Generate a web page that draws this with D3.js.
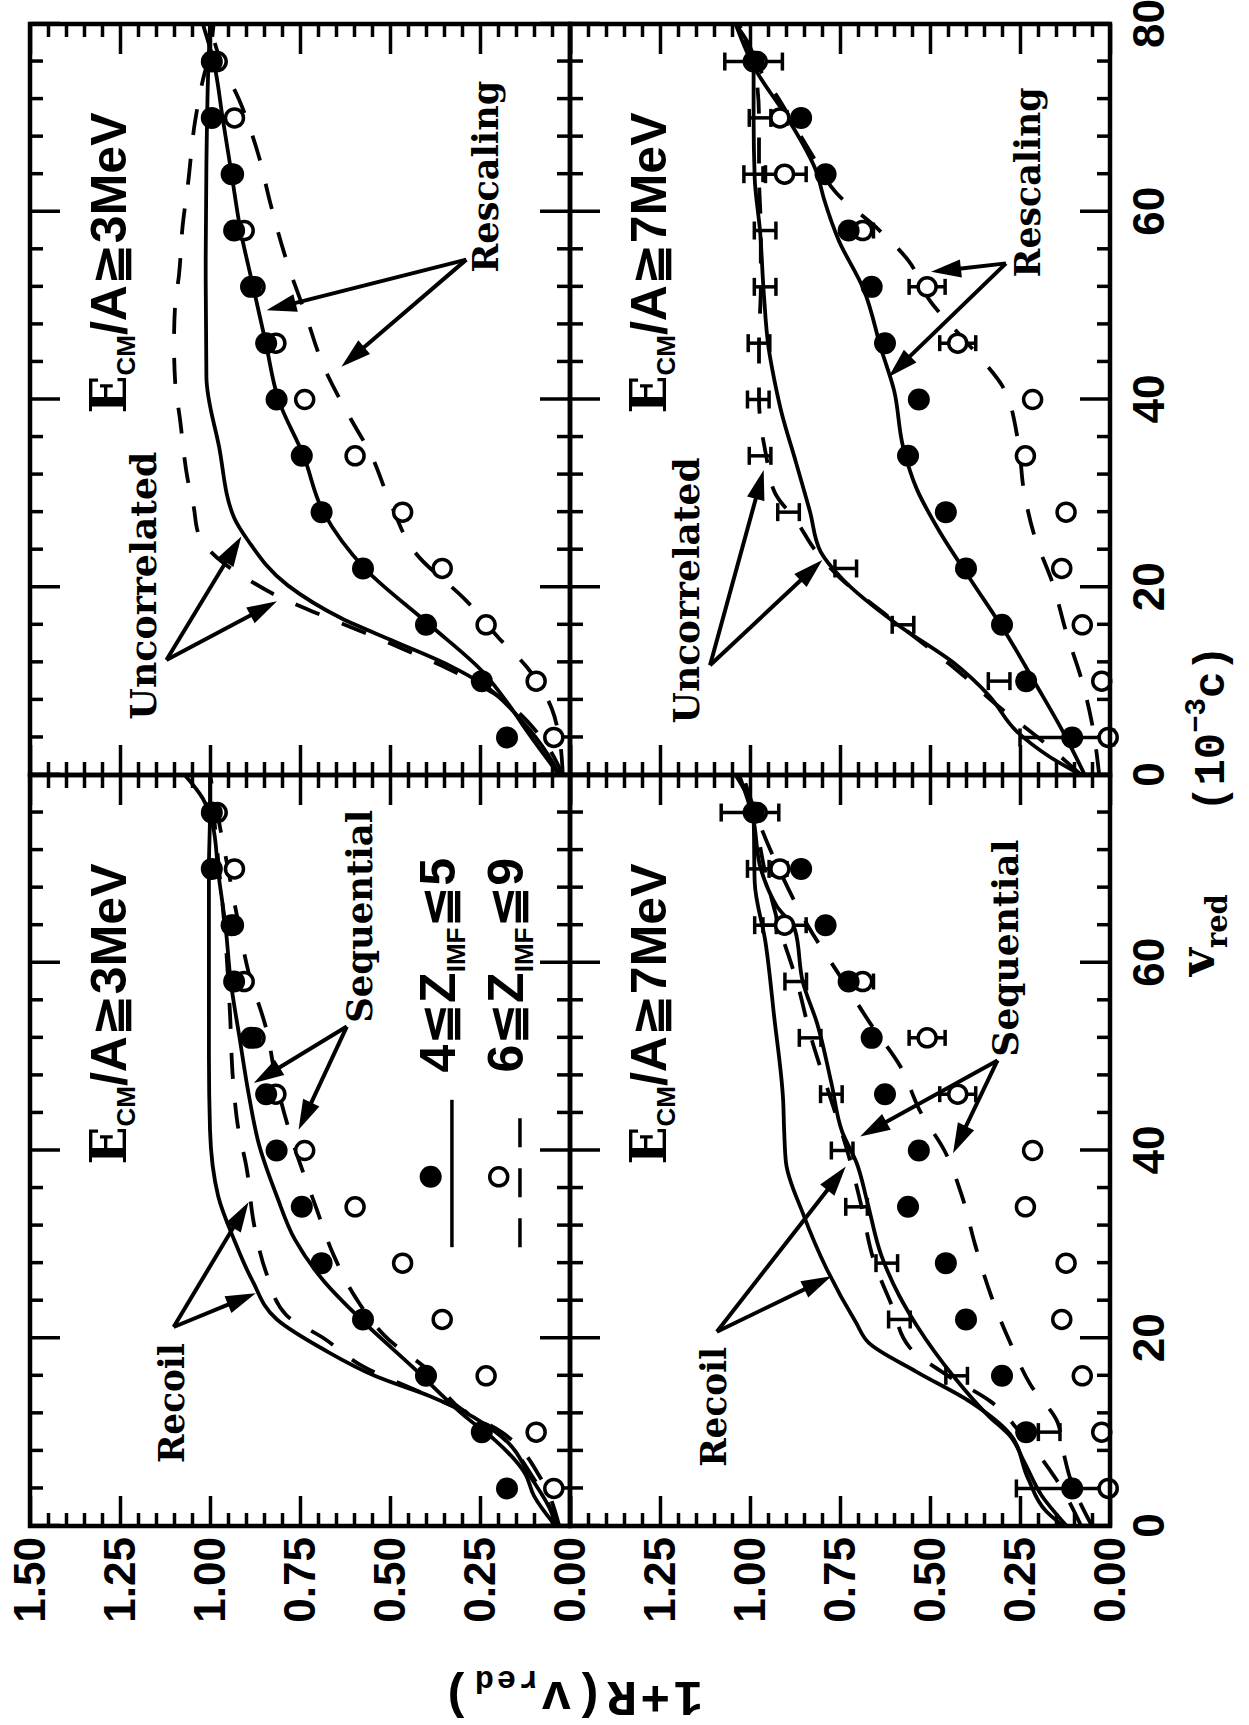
<!DOCTYPE html>
<html><head><meta charset="utf-8">
<script src="https://cdn.jsdelivr.net/npm/d3@7/dist/d3.min.js"></script>
<style>html,body{margin:0;padding:0;background:#fff}svg{display:block}</style>
</head><body>
<script>
// ---------------- data ----------------
const vPts = [4,10,16,22,28,34,40,46,52,58,64,70,76];
const rTicks = [0,0.25,0.5,0.75,1,1.25,1.5];
const vTicks = [0,20,40,60,80];

// E_CM/A >= 3 MeV data (4<=Z<=5 filled, 6<=Z<=9 open)
const filled3 = [0.175,0.245,0.40,0.575,0.69,0.745,0.815,0.844,0.886,0.933,0.94,0.995,0.995];
const open3   = [0.045,0.094,0.233,0.355,0.465,0.597,0.737,0.817,0.875,0.905,0.935,0.932,0.98];
// E_CM/A >= 7 MeV data
const filled7 = [0.105,0.233,0.30,0.40,0.456,0.561,0.531,0.625,0.662,0.726,0.79,0.858,0.99];
const open7   = [0.005,0.023,0.077,0.134,0.122,0.235,0.215,0.423,0.508,0.687,0.904,0.917,0.98];
const open7Err= [0,0,0,0,0,0,0,0.05,0.05,0.03,0.06,0.02,0];
// simulation error bars (7 MeV)
const calcUncor7 = [0.12,0.308,0.575,0.734,0.893,0.972,0.977,0.975,0.958,0.958,0.987,0.972,0.99];
const calcSeq7   = [0.13,0.169,0.426,0.585,0.62,0.704,0.744,0.774,0.833,0.873,0.957,0.977,1.0];
const calcErr7   = [0.13,0.03,0.03,0.03,0.03,0.03,0.03,0.03,0.03,0.03,0.03,0.03,0.08];

// model curves [v_red, 1+R]
const recoilSolid3 = [[0,0.04],[1.3,0.05],[5.2,0.109],[9.5,0.189],[11.6,0.268],[13.8,0.387],[15.9,0.536],[18.8,0.684],[22,0.814],[26.2,0.883],[30.5,0.933],[35.1,0.977],[42.2,1.0],[50,1.003],[60,1.003],[70,1.003],[76,1.0],[80,1.0]];
const recoilDash3  = [[0,0.03],[5,0.1],[9.5,0.19],[11.8,0.27],[14,0.40],[17,0.575],[20,0.684],[22.5,0.789],[27,0.844],[32,0.877],[38.5,0.90],[42,0.92],[47,0.935],[55,0.945],[64,0.96],[70,0.975],[76,0.99],[80,1.0]];
const seqSolid3    = [[0,0.04],[3.2,0.10],[5.6,0.125],[9.2,0.21],[11.6,0.289],[16.9,0.436],[22.2,0.586],[26.1,0.684],[30.5,0.764],[35.1,0.814],[40.5,0.863],[46.1,0.893],[51.8,0.917],[57.9,0.942],[63.9,0.957],[69.6,0.977],[74.6,0.992],[77.5,1.02],[80,1.07]];
const seqDash3     = [[0,0.03],[5,0.08],[10,0.19],[12.4,0.30],[16.7,0.397],[19.9,0.505],[24.3,0.595],[28.8,0.656],[34,0.706],[41.5,0.775],[47,0.814],[53,0.844],[59,0.893],[64,0.92],[70,0.95],[76,0.98],[80,1.0]];
const uncorSolid3  = [[0,0.03],[2.1,0.06],[6,0.139],[9.55,0.238],[11.7,0.337],[14.2,0.486],[16.7,0.635],[20.2,0.784],[24.9,0.893],[27.4,0.933],[35,0.975],[42.4,1.01],[55,1.012],[65,1.01],[75,1.005],[80,1.0]];
const uncorDash3   = [[0,0.02],[4,0.08],[8.6,0.208],[11.3,0.337],[13.3,0.456],[15.4,0.586],[17.4,0.714],[19.2,0.82],[20.5,0.88],[22.5,0.96],[25.8,1.033],[28.5,1.045],[31.5,1.062],[37.8,1.083],[42,1.097],[46,1.10],[50,1.097],[53.3,1.086],[58.5,1.076],[63,1.061],[69.5,1.042],[74,1.02],[77,1.0],[80,0.99]];
const rescSolid3   = [[0,0.03],[4.7,0.12],[7.5,0.17],[10.9,0.24],[16,0.39],[22,0.57],[28,0.685],[34,0.74],[40,0.81],[46,0.845],[52,0.88],[58,0.915],[64,0.94],[70,0.965],[76,0.99],[80,1.02]];
const rescDash3    = [[0,0.02],[4,0.03],[7,0.05],[11.5,0.12],[14.6,0.198],[18.6,0.289],[23.6,0.428],[28.8,0.497],[34.3,0.555],[38,0.61],[43.5,0.684],[49,0.734],[55,0.789],[61,0.833],[66,0.865],[72,0.92],[76,0.97],[80,1.0]];

const recoilSolid7 = [[0,0.13],[1.6,0.178],[5.1,0.228],[9.8,0.278],[13.2,0.387],[16.4,0.536],[19.5,0.67],[21.7,0.706],[27.3,0.786],[33.3,0.853],[38.7,0.90],[42,0.905],[45.4,0.908],[54.3,0.933],[62.2,0.957],[68.6,0.987],[75.5,0.99],[80,1.04]];
const recoilDash7  = [[0,0.08],[5,0.15],[10,0.25],[13.3,0.333],[16,0.45],[19,0.556],[23.4,0.605],[28.4,0.657],[34,0.69],[40,0.73],[46,0.78],[52,0.83],[58,0.87],[64,0.92],[70,0.96],[76,0.99],[80,1.02]];
const seqSolid7    = [[0,0.12],[3.2,0.189],[6.8,0.238],[9.6,0.278],[11.7,0.337],[16,0.436],[21.3,0.536],[24.5,0.585],[28.8,0.635],[34.5,0.674],[38.7,0.704],[42,0.744],[47.2,0.774],[53.6,0.814],[57.9,0.853],[63.5,0.875],[66,0.925],[70,0.97],[75.5,0.992],[80,1.03]];
const seqDash7     = [[0,0.05],[5,0.11],[8,0.13],[11,0.145],[15,0.22],[19.6,0.278],[24.5,0.33],[30,0.375],[35,0.41],[40,0.46],[44,0.525],[49,0.583],[53.6,0.667],[58,0.74],[64,0.84],[70,0.92],[76,0.985],[80,1.02]];
const uncorSolid7  = [[0,0.08],[2,0.17],[4.6,0.258],[8.5,0.337],[12,0.436],[15.9,0.586],[20.9,0.744],[23.8,0.804],[28,0.833],[33.4,0.873],[38.7,0.913],[42.2,0.933],[45.4,0.948],[51.5,0.962],[57.9,0.972],[63.6,0.987],[70,0.99],[76,0.99],[80,1.04]];
const uncorDash7   = [[0,0.08],[4,0.2],[7,0.30],[11,0.42],[17,0.62],[21,0.75],[24,0.82],[27,0.87],[30,0.93],[34,0.955],[40,0.975],[46,0.975],[52,0.97],[58,0.97],[64,0.975],[70,0.975],[76,0.99],[80,1.04]];
const rescSolid7   = [[0,0.07],[4.5,0.129],[9.8,0.208],[15.1,0.289],[20.8,0.387],[26.1,0.476],[30.4,0.536],[35,0.575],[41,0.60],[45.3,0.635],[51.7,0.684],[57,0.754],[61.3,0.794],[64.1,0.814],[69.8,0.893],[75.3,0.987],[80,1.04]];
const rescDash7    = [[0,0.03],[5.5,0.05],[10.3,0.08],[15,0.12],[20.5,0.16],[25.5,0.21],[30.5,0.24],[35.5,0.255],[41.5,0.30],[44,0.35],[47,0.42],[50.5,0.50],[54.8,0.56],[58,0.64],[62,0.76],[66.4,0.833],[72,0.92],[76,0.985],[80,1.03]];

// ---------------- layout ----------------
const W = 1249, H = 1725;
const svg = d3.select('body').append('svg').attr('width', W).attr('height', H);
svg.append('rect').attr('width', W).attr('height', H).attr('fill', '#fff');
// the figure is drawn in landscape orientation and turned 90 degrees counter-clockwise
const root = svg.append('g').attr('transform', `translate(0,${H}) rotate(-90)`);
const COLS = [[199, 950], [950, 1701]];   // v_red 0..80
const ROWS = [[30, 570], [570, 1110]];    // 1+R 1.5..0
const SANS = "'Liberation Sans','DejaVu Sans',sans-serif";
const SERIF = "'DejaVu Serif','Liberation Serif',serif";
const MONO = "'Liberation Mono','DejaVu Sans Mono',monospace";

const panels = [
  { r:0, c:0, e:'3', filled:filled3, open:open3,
    curves:[[recoilSolid3,0],[recoilDash3,1],[seqSolid3,0],[seqDash3,1]],
    labels:[{t:'Recoil',v:6.7,R:1.072,len:120},{t:'Sequential',v:53.6,R:0.55,len:213}],
    arrows:[[[21.2,1.101],[34.5,0.893]],[[21.2,1.101],[24.8,0.873]],[[53.2,0.62],[47.2,0.878]],[[53.2,0.62],[42.2,0.754]]],
    legend:true },
  { r:0, c:1, e:'3', filled:filled3, open:open3,
    curves:[[uncorSolid3,0],[uncorDash3,1],[rescSolid3,0],[rescDash3,1]],
    labels:[{t:'Rescaling',v:53.5,R:0.2,len:192},{t:'Uncorrelated',v:5.9,R:1.15,len:268}],
    arrows:[[[54.9,0.288],[49.5,0.843]],[[54.9,0.288],[43.5,0.635]],[[12.25,1.121],[25.4,0.913]],[[12.25,1.121],[18.5,0.814]]] },
  { r:1, c:0, e:'7', filled:filled7, open:open7, openErr:open7Err, calc:calcSeq7,
    curves:[[recoilSolid7,0],[recoilDash7,1],[seqSolid7,0],[seqDash7,1]],
    labels:[{t:'Recoil',v:6.3,R:1.067,len:120},{t:'Sequential',v:50.0,R:0.256,len:217}],
    arrows:[[[20.7,1.092],[38.3,0.734]],[[20.7,1.092],[26.6,0.774]],[[49.6,0.3125],[41.5,0.694]],[[49.6,0.3125],[39.7,0.436]]] },
  { r:1, c:1, e:'7', filled:filled7, open:open7, openErr:open7Err, calc:calcUncor7,
    curves:[[uncorSolid7,0],[uncorDash7,1],[rescSolid7,0],[rescDash7,1]],
    labels:[{t:'Rescaling',v:53.0,R:0.194,len:190},{t:'Uncorrelated',v:5.5,R:1.142,len:266}],
    arrows:[[[54.5,0.289],[53.6,0.497]],[[54.5,0.289],[42.4,0.615]],[[11.7,1.111],[32.5,0.962]],[[11.7,1.111],[22.9,0.799]]] }
];

const rMinor = d3.range(0, 31).map(i => i*0.05).filter((d,i) => i % 5 !== 0);
const vMinor = d3.range(0, 21).map(i => i*4).filter(d => d % 20 !== 0);

function tickAxis(gp, axis, tx, ty) {
  const a = gp.append('g').attr('transform', `translate(${tx},${ty})`).call(axis);
  a.select('.domain').remove();
  a.selectAll('text').remove();
  a.selectAll('line').attr('stroke', '#000').attr('stroke-width', 3.5);
}

function arrow(gp, x, y, a) {
  const x1 = x(a[0][0]), y1 = y(a[0][1]), x2 = x(a[1][0]), y2 = y(a[1][1]);
  const ang = Math.atan2(y2 - y1, x2 - x1), L = 30, Wd = 9;
  const bx = x2 - L*Math.cos(ang), by = y2 - L*Math.sin(ang);
  gp.append('line').attr('x1', x1).attr('y1', y1).attr('x2', bx + 4*Math.cos(ang)).attr('y2', by + 4*Math.sin(ang))
    .attr('stroke', '#000').attr('stroke-width', 4);
  gp.append('path').attr('d', `M${x2},${y2}L${bx + Wd*Math.sin(ang)},${by - Wd*Math.cos(ang)}L${bx - Wd*Math.sin(ang)},${by + Wd*Math.cos(ang)}Z`)
    .attr('fill', '#000');
}

panels.forEach(p => {
  const [x0, x1] = COLS[p.c], [y0, y1] = ROWS[p.r];
  const x = d3.scaleLinear().domain([0, 80]).range([x0, x1]);
  const y = d3.scaleLinear().domain([0, 1.5]).range([y1, y0]);
  const gp = root.append('g');
  const id = 'clip' + p.r + p.c;
  gp.append('clipPath').attr('id', id).append('rect')
    .attr('x', x0).attr('y', y0).attr('width', x1 - x0).attr('height', y1 - y0);

  // inward ticks on all four sides
  tickAxis(gp, d3.axisLeft(y).tickValues(rTicks).tickSize(-30).tickFormat(''), x0, 0);
  tickAxis(gp, d3.axisLeft(y).tickValues(rMinor).tickSize(-13).tickFormat(''), x0, 0);
  tickAxis(gp, d3.axisRight(y).tickValues(rTicks).tickSize(-30).tickFormat(''), x1, 0);
  tickAxis(gp, d3.axisRight(y).tickValues(rMinor).tickSize(-13).tickFormat(''), x1, 0);
  tickAxis(gp, d3.axisTop(x).tickValues(vTicks).tickSize(-30).tickFormat(''), 0, y0);
  tickAxis(gp, d3.axisTop(x).tickValues(vMinor).tickSize(-13).tickFormat(''), 0, y0);
  tickAxis(gp, d3.axisBottom(x).tickValues(vTicks).tickSize(-30).tickFormat(''), 0, y1);
  tickAxis(gp, d3.axisBottom(x).tickValues(vMinor).tickSize(-13).tickFormat(''), 0, y1);

  // tick labels
  if (p.c === 0) {
    const la = gp.append('g').attr('transform', `translate(${x0},0)`)
      .call(d3.axisLeft(y).tickValues(p.r === 0 ? rTicks : rTicks.slice(0, 6)).tickSize(0).tickPadding(11).tickFormat(d3.format('.2f')));
    la.select('.domain').remove();
    la.selectAll('text').attr('font-family', SANS).attr('font-weight', 'bold').attr('font-size', 44).attr('fill', '#000');
  }
  if (p.r === 1) {
    const lb = gp.append('g').attr('transform', `translate(0,${y1})`)
      .call(d3.axisBottom(x).tickValues(p.c === 0 ? vTicks.slice(0, 4) : vTicks).tickSize(0).tickPadding(23).tickFormat(d3.format('d')));
    lb.select('.domain').remove();
    lb.selectAll('text').attr('font-family', SANS).attr('font-weight', 'bold').attr('font-size', 44).attr('fill', '#000');
  }

  // curves
  const line = d3.line().x(d => x(d[0])).y(d => y(d[1])).curve(d3.curveMonotoneX);
  p.curves.forEach(([d, dash]) => {
    gp.append('path').attr('clip-path', `url(#${id})`).attr('d', line(d))
      .attr('fill', 'none').attr('stroke', '#000').attr('stroke-width', 3.8)
      .attr('stroke-dasharray', dash ? '26,24' : null);
  });

  // simulation error bars
  if (p.calc) {
    p.calc.forEach((R, i) => {
      const cx = x(vPts[i]), e = calcErr7[i];
      gp.append('line').attr('x1', cx).attr('x2', cx).attr('y1', y(R - e)).attr('y2', y(R + e)).attr('stroke', '#000').attr('stroke-width', 3.5);
      [R - e, R + e].forEach(rr => gp.append('line').attr('x1', cx - 9).attr('x2', cx + 9).attr('y1', y(rr)).attr('y2', y(rr)).attr('stroke', '#000').attr('stroke-width', 3.5));
    });
  }
  // open points with error bars
  p.open.forEach((R, i) => {
    const cx = x(vPts[i]), e = p.openErr ? p.openErr[i] : 0;
    if (e > 0) {
      gp.append('line').attr('x1', cx).attr('x2', cx).attr('y1', y(R - e)).attr('y2', y(R + e)).attr('stroke', '#000').attr('stroke-width', 3.5);
      [R - e, R + e].forEach(rr => gp.append('line').attr('x1', cx - 8).attr('x2', cx + 8).attr('y1', y(rr)).attr('y2', y(rr)).attr('stroke', '#000').attr('stroke-width', 3.5));
    }
    gp.append('circle').attr('cx', cx).attr('cy', y(R)).attr('r', 9).attr('fill', '#fff').attr('stroke', '#000').attr('stroke-width', 3.5);
  });
  p.filled.forEach((R, i) => {
    gp.append('circle').attr('cx', x(vPts[i])).attr('cy', y(R)).attr('r', 11).attr('fill', '#000');
  });

  // frame
  gp.append('rect').attr('x', x0).attr('y', y0).attr('width', x1 - x0).attr('height', y1 - y0)
    .attr('fill', 'none').attr('stroke', '#000').attr('stroke-width', 4.5);

  // energy label
  const t = gp.append('text').attr('x', x(38.5)).attr('y', y(1.233)).attr('font-weight', 'bold').attr('fill', '#000');
  t.append('tspan').attr('font-family', SERIF).attr('font-size', 50).text('E');
  t.append('tspan').attr('font-family', SANS).attr('font-size', 26).attr('dy', 9).text('CM');
  t.append('tspan').attr('font-family', SANS).attr('font-size', 50).attr('dy', -9).text('/A≧' + p.e + 'MeV');

  // model labels and arrows
  p.labels.forEach(l => {
    gp.append('text').attr('x', x(l.v)).attr('y', y(l.R)).attr('font-family', SERIF).attr('font-weight', 'bold')
      .attr('font-size', 35).attr('textLength', l.len).attr('lengthAdjust', 'spacingAndGlyphs').text(l.t);
  });
  p.arrows.forEach(a => arrow(gp, x, y, a));

  if (p.legend) {
    gp.append('line').attr('x1', x(29.7)).attr('x2', x(45.4)).attr('y1', y(0.328)).attr('y2', y(0.328)).attr('stroke', '#000').attr('stroke-width', 3.5);
    gp.append('circle').attr('cx', x(37.2)).attr('cy', y(0.387)).attr('r', 11).attr('fill', '#000');
    gp.append('line').attr('x1', x(29.7)).attr('x2', x(43.5)).attr('y1', y(0.139)).attr('y2', y(0.139)).attr('stroke', '#000').attr('stroke-width', 3.5).attr('stroke-dasharray', '29,21');
    gp.append('circle').attr('cx', x(37.2)).attr('cy', y(0.198)).attr('r', 9).attr('fill', '#fff').attr('stroke', '#000').attr('stroke-width', 3.5);
    [['4', '5', 0.32], ['6', '9', 0.13]].forEach(([a, b, R]) => {
      const lt = gp.append('text').attr('x', x(48.3)).attr('y', y(R)).attr('font-family', SANS).attr('font-weight', 'bold').attr('fill', '#000');
      lt.append('tspan').attr('font-size', 50).text(a + '≦Z');
      lt.append('tspan').attr('font-size', 26).attr('dy', 10).text('IMF');
      lt.append('tspan').attr('font-size', 50).attr('dy', -10).text('≦' + b);
    });
  }
});

// axis titles
const xt = root.append('text').attr('x', 749).attr('y', 1214).attr('font-weight', 'bold').attr('fill', '#000');
xt.append('tspan').attr('font-family', SERIF).attr('font-size', 48).text('v');
xt.append('tspan').attr('font-family', SERIF).attr('font-size', 29).attr('dy', 13).text('red');
xt.append('tspan').attr('font-family', MONO).attr('font-size', 44).attr('x', 913).attr('dy', -3).text('(10');
xt.append('tspan').attr('font-family', MONO).attr('font-size', 29).attr('dy', -19).text('−3');
xt.append('tspan').attr('font-family', MONO).attr('font-size', 44).attr('dy', 19).text('c)');

const yt = root.append('text').attr('transform', 'translate(43,571) rotate(-90)').attr('text-anchor', 'middle')
  .attr('font-family', MONO).attr('font-weight', 'bold').attr('fill', '#000').attr('letter-spacing', 3);
yt.append('tspan').attr('font-size', 50).text('1+R(v');
yt.append('tspan').attr('font-size', 32).attr('dy', 11).text('red');
yt.append('tspan').attr('font-size', 50).attr('dy', -11).text(')');
</script>
</body></html>
